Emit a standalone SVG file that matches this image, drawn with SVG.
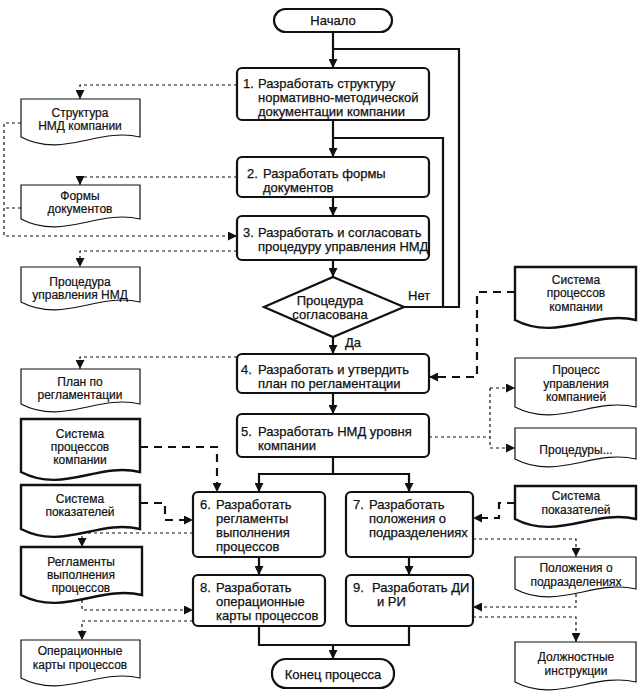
<svg xmlns="http://www.w3.org/2000/svg" width="643" height="696" viewBox="0 0 643 696">
<defs>
<style>
.bx{fill:#fff;stroke:#111;stroke-width:2.2}
.doc{fill:#fff;stroke:#111;stroke-width:1.2}
.docb{fill:#fff;stroke:#111;stroke-width:2.4}
.t{font-family:"Liberation Sans",Arial,sans-serif;font-size:13px;fill:#111;stroke:#111;stroke-width:0.25}
.d{font-family:"Liberation Sans",Arial,sans-serif;font-size:12px;fill:#111;stroke:#111;stroke-width:0.2;text-anchor:middle}
.c{text-anchor:middle}
.s{fill:none;stroke:#111;stroke-width:2.2}
.dot{fill:none;stroke:#111;stroke-width:1.2;stroke-dasharray:3 3}
.dsh{fill:none;stroke:#111;stroke-width:2.2;stroke-dasharray:8 6}
</style>
<marker id="a" viewBox="0 0 10 10" refX="10" refY="5" markerWidth="9" markerHeight="9" markerUnits="userSpaceOnUse" orient="auto">
<path d="M0,0 L10,5 L0,10 Z" fill="#111" stroke="none"/>
</marker>
</defs>
<rect width="643" height="696" fill="#fff"/>

<g id="connectors">
<path class="s" d="M333,32 V68" marker-end="url(#a)"/>
<path class="s" d="M404,307 H459 V49 H333"/>
<path class="s" d="M443,307 V138 H333"/>
<path class="s" d="M333,120 V157" marker-end="url(#a)"/>
<path class="s" d="M333,197 V216" marker-end="url(#a)"/>
<path class="s" d="M333,260 V277" marker-end="url(#a)"/>
<path class="s" d="M333,337 V354" marker-end="url(#a)"/>
<path class="s" d="M333,393 V414" marker-end="url(#a)"/>
<path class="s" d="M333,457 V474 M259,474 H409"/>
<path class="s" d="M259,473 V492" marker-end="url(#a)"/>
<path class="s" d="M409,473 V492" marker-end="url(#a)"/>
<path class="s" d="M259,557 V575" marker-end="url(#a)"/>
<path class="s" d="M409,557 V575" marker-end="url(#a)"/>
<path class="s" d="M259,626 V645 H409 V626"/>
<path class="s" d="M333,645 V659" marker-end="url(#a)"/>
<path class="dot" d="M237,85 H80 V99" marker-end="url(#a)"/>
<path class="dot" d="M21,123 H4 V236 H237" marker-end="url(#a)"/>
<path class="dot" d="M21,208 H4"/>
<path class="dot" d="M237,177 H80 V185" marker-end="url(#a)"/>
<path class="dot" d="M237,251 H80 V267" marker-end="url(#a)"/>
<path class="dot" d="M237,357 H80 V369" marker-end="url(#a)"/>
<path class="dot" d="M429,437 H490 M490,388 V448"/>
<path class="dot" d="M490,388 H515" marker-end="url(#a)"/>
<path class="dot" d="M490,448 H515" marker-end="url(#a)"/>
<path class="dot" d="M193,533 H82 V547" marker-end="url(#a)"/>
<path class="dot" d="M82,600 V610 H193" marker-end="url(#a)"/>
<path class="dot" d="M193,621 H82 V640" marker-end="url(#a)"/>
<path class="dot" d="M473,539 H576 V557" marker-end="url(#a)"/>
<path class="dot" d="M576,594 V607 H473" marker-end="url(#a)"/>
<path class="dot" d="M473,617 H576 V642" marker-end="url(#a)"/>
<path class="dsh" d="M515,292 H477 V377 H429" marker-end="url(#a)"/>
<path class="dsh" d="M140,447 H217 V492" marker-end="url(#a)"/>
<path class="dsh" d="M140,503 H165 V520 H193" marker-end="url(#a)"/>
<path class="dsh" d="M515,503 H499 V518 H473" marker-end="url(#a)"/>
</g>

<g id="start">
<rect class="bx" x="274" y="9" width="118" height="23" rx="11.5" stroke-width="2"/>
<text class="t c" x="333" y="25">Начало</text>
</g>
<g id="step1">
<rect class="bx" x="237" y="68" width="192" height="52" rx="5"/>
<text class="t" x="243" y="88">1.</text>
<text class="t" x="258" y="88">Разработать структуру</text>
<text class="t" x="258" y="102">нормативно-методической</text>
<text class="t" x="258" y="116">документации компании</text>
</g>
<g id="step2">
<rect class="bx" x="237" y="157" width="192" height="40" rx="5"/>
<text class="t" x="247" y="178">2.</text>
<text class="t" x="263" y="178">Разработать формы</text>
<text class="t" x="263" y="192">документов</text>
</g>
<g id="step3">
<rect class="bx" x="237" y="216" width="192" height="44" rx="5"/>
<text class="t" x="243" y="237">3.</text>
<text class="t" x="258" y="237">Разработать и согласовать</text>
<text class="t" x="258" y="251">процедуру управления НМД</text>
</g>
<g id="decision">
<path class="bx" d="M333,277 L404,307 L333,337 L264,307 Z"/>
<text class="t c" x="330" y="305">Процедура</text>
<text class="t c" x="330" y="319">согласована</text>
<text class="t" x="408" y="300">Нет</text>
<text class="t" x="345" y="347">Да</text>
</g>
<g id="step4">
<rect class="bx" x="237" y="354" width="192" height="39" rx="5"/>
<text class="t" x="241" y="374">4.</text>
<text class="t" x="258" y="374">Разработать и утвердить</text>
<text class="t" x="258" y="388">план по регламентации</text>
</g>
<g id="step5">
<rect class="bx" x="237" y="414" width="192" height="43" rx="5"/>
<text class="t" x="241" y="436">5.</text>
<text class="t" x="258" y="436">Разработать НМД уровня</text>
<text class="t" x="258" y="450">компании</text>
</g>
<g id="step6">
<rect class="bx" x="193" y="492" width="132" height="65" rx="5"/>
<text class="t" x="200" y="509">6.</text>
<text class="t" x="216" y="509">Разработать</text>
<text class="t" x="216" y="523">регламенты</text>
<text class="t" x="216" y="537">выполнения</text>
<text class="t" x="216" y="551">процессов</text>
</g>
<g id="step7">
<rect class="bx" x="346" y="492" width="127" height="65" rx="5"/>
<text class="t" x="353" y="509">7.</text>
<text class="t" x="369" y="509">Разработать</text>
<text class="t" x="369" y="523">положения о</text>
<text class="t" x="369" y="537">подразделениях</text>
</g>
<g id="step8">
<rect class="bx" x="193" y="575" width="132" height="51" rx="5"/>
<text class="t" x="200" y="592">8.</text>
<text class="t" x="216" y="592">Разработать</text>
<text class="t" x="216" y="606">операционные</text>
<text class="t" x="216" y="620">карты процессов</text>
</g>
<g id="step9">
<rect class="bx" x="346" y="575" width="127" height="51" rx="5"/>
<text class="t" x="353" y="592">9.</text>
<text class="t" x="372" y="592">Разработать ДИ</text>
<text class="t" x="377" y="606">и РИ</text>
</g>
<g id="end">
<rect class="bx" x="272" y="659" width="122" height="29" rx="14" stroke-width="2"/>
<text class="t c" x="333" y="679">Конец процесса</text>
</g>

<g id="doc-struktura">
<path class="doc" d="M21,99 H140 V137 C98,127 63,159 21,137 Z"/>
<text class="d" x="80" y="117">Структура</text>
<text class="d" x="80" y="130">НМД компании</text>
</g>
<g id="doc-formy">
<path class="doc" d="M21,185 H140 V219 C98,209 63,241 21,219 Z"/>
<text class="d" x="80" y="200">Формы</text>
<text class="d" x="80" y="213">документов</text>
</g>
<g id="doc-procedura">
<path class="doc" d="M21,267 H140 V302 C98,292 63,324 21,302 Z"/>
<text class="d" x="80" y="286">Процедура</text>
<text class="d" x="80" y="299">управления НМД</text>
</g>
<g id="doc-plan">
<path class="doc" d="M21,369 H140 V404 C98,394 63,426 21,404 Z"/>
<text class="d" x="80" y="386">План по</text>
<text class="d" x="80" y="399">регламентации</text>
</g>
<g id="doc-sistema-processov-l">
<path class="docb" d="M21,419 H140 V472 C98,462 63,494 21,472 Z"/>
<text class="d" x="80" y="438">Система</text>
<text class="d" x="80" y="451">процессов</text>
<text class="d" x="80" y="464">компании</text>
</g>
<g id="doc-sistema-pokazateley-l">
<path class="docb" d="M21,485 H140 V529 C98,519 63,551 21,529 Z"/>
<text class="d" x="80" y="503">Система</text>
<text class="d" x="80" y="516">показателей</text>
</g>
<g id="doc-reglamenty">
<path class="docb" d="M21,547 H142 V595 C100,585 63,617 21,595 Z"/>
<text class="d" x="81" y="566">Регламенты</text>
<text class="d" x="81" y="579">выполнения</text>
<text class="d" x="81" y="592">процессов</text>
</g>
<g id="doc-operacionnye">
<path class="doc" d="M21,640 H140 V678 C98,668 63,700 21,678 Z"/>
<text class="d" x="80" y="655">Операционные</text>
<text class="d" x="80" y="669">карты процессов</text>
</g>

<g id="doc-sistema-processov-r">
<path class="docb" d="M515,267 H636 V320 C594,310 557,342 515,320 Z"/>
<text class="d" x="576" y="284">Система</text>
<text class="d" x="576" y="297">процессов</text>
<text class="d" x="576" y="311">компании</text>
</g>
<g id="doc-process-upravleniya">
<path class="doc" d="M515,358 H636 V407 C594,397 557,429 515,407 Z"/>
<text class="d" x="576" y="374">Процесс</text>
<text class="d" x="576" y="388">управления</text>
<text class="d" x="576" y="401">компанией</text>
</g>
<g id="doc-procedury">
<path class="doc" d="M515,428 H636 V459 C594,449 557,481 515,459 Z"/>
<text class="d" x="576" y="454">Процедуры...</text>
</g>
<g id="doc-sistema-pokazateley-r">
<path class="docb" d="M515,486 H636 V519 C594,509 557,541 515,519 Z"/>
<text class="d" x="576" y="500">Система</text>
<text class="d" x="576" y="514">показателей</text>
</g>
<g id="doc-polozheniya">
<path class="doc" d="M515,557 H636 V589 C594,579 557,611 515,589 Z"/>
<text class="d" x="576" y="572">Положения о</text>
<text class="d" x="576" y="586">подразделениях</text>
</g>
<g id="doc-dolzhnostnye">
<path class="doc" d="M515,642 H636 V682 C594,672 557,704 515,682 Z"/>
<text class="d" x="576" y="661">Должностные</text>
<text class="d" x="576" y="675">инструкции</text>
</g>
</svg>
